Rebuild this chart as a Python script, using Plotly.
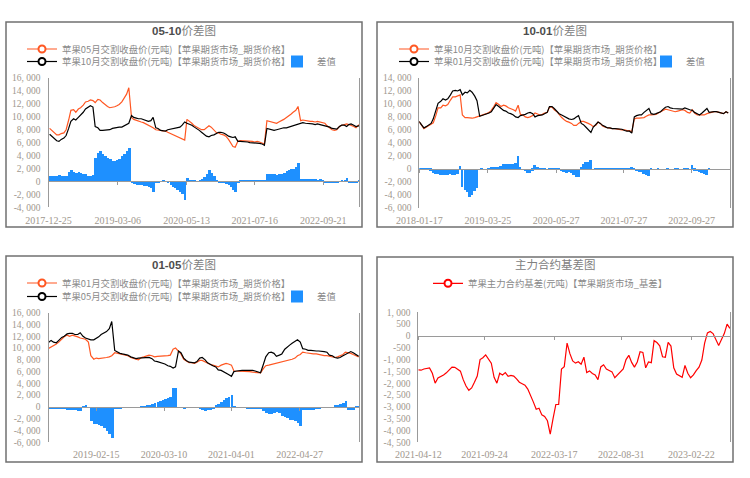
import pandas as pd
import plotly.graph_objects as go

W, H = 750, 478

# ---------------- Panel 1 : 05-10 ----------------
p1_dates = pd.date_range("2018-01-01", periods=130, freq="SMS")
p1_c05 = [
    8200, 7900, 7500, 7200, 7200, 7400, 7500, 8000, 9500, 11000, 11100, 10700,
    11200, 11400, 11800, 12300, 12400, 12600, 12500, 12200, 12700, 12600, 12200, 11900,
    11600, 11400, 11450, 11550, 11700, 11900, 12300, 12900, 13500, 14500, 9900, 9600,
    9500, 9400, 9200, 9100, 8900, 8700, 8500, 8300, 8000, 8000, 7900, 7800,
    7800, 7600, 7400, 7200, 7100, 6900, 6700, 6500, 6400, 9600, 9300, 9000,
    8600, 8400, 8200, 8000, 8000, 8300, 8600, 8400, 8000, 7600, 7500, 7300,
    7200, 7000, 6500, 6000, 5400, 5300, 6200, 6300, 6300, 6200, 6300, 6200,
    6200, 6100, 6200, 6100, 6000, 5800, 9400, 9300, 9100, 9000, 9000, 9200,
    9400, 9600, 9900, 10100, 10400, 10700, 11000, 11600, 9400, 9500, 9400, 9400,
    9300, 9300, 9200, 9300, 9200, 9100, 9000, 8600, 8200, 8000, 7900, 8000,
    8500, 8700, 8800, 8900, 8800, 8700, 8500, 8300, 8700, 8700,
]
p1_c10 = [
    7300, 7000, 6700, 6300, 6200, 6500, 6700, 7100, 8200, 9300, 9700, 9500,
    9900, 10200, 10700, 11200, 11500, 11700, 11500, 8500, 8300, 7900, 7900, 7900,
    8000, 8000, 8200, 8300, 8400, 8400, 8400, 8600, 8800, 9000, 10200, 9900,
    9800, 9700, 9700, 9600, 9500, 9300, 9400, 9900, 8300, 8200, 7900, 7800,
    7800, 8000, 8100, 8100, 8200, 8300, 8400, 8700, 9200, 9000, 8900, 8700,
    8400, 8200, 7900, 7600, 7300, 7000, 6900, 7100, 7200, 7400, 7600, 7600,
    7500, 7300, 7000, 6900, 6800, 6900, 6200, 6200, 6200, 6100, 6100, 6000,
    6000, 6000, 6000, 5900, 5800, 5600, 8200, 8100, 8000, 7900, 8000, 8100,
    8200, 8300, 8300, 8400, 8500, 8700, 8800, 8900, 9000, 9100, 9000, 9000,
    8900, 8900, 8800, 8900, 8800, 8700, 8700, 8600, 8400, 8200, 8100, 8100,
    8500, 8700, 8700, 8500, 8800, 8900, 8700, 8500, 8600, 8500,
]
p1_diff = [
    900, 900, 800, 900, 1000, 900, 800, 900, 1400, 1800, 1500, 1300,
    1400, 1300, 1100, 1100, 900, 900, 1000, 3700, 4400, 4700, 4300, 4000,
    3600, 3400, 3200, 3200, 3300, 3500, 3900, 4300, 4700, 5200, -300, -400,
    -500, -500, -600, -700, -700, -800, -1000, -1700, -300, -200, 0, 100,
    0, -300, -600, -800, -1000, -1300, -1600, -2000, -2800, 600, 300, 100,
    100, 0, 200, 400, 700, 1200, 1700, 1300, 800, 200, -100, -300,
    -300, -400, -500, -900, -1400, -1700, -100, 100, 100, 100, 200, 200,
    200, 200, 200, 200, 200, 200, 1200, 1200, 1100, 1100, 1000, 1100,
    1200, 1300, 1600, 1800, 1900, 2000, 2200, 2900, 400, 400, 400, 400,
    400, 400, 400, 300, 400, 300, -100, -200, -200, -200, -300, -100,
    0, 100, 200, 500, -100, -200, -300, -200, 100, 300,
]
p1_xticks = ["2017-12-25", "2019-03-06", "2020-05-13", "2021-07-16", "2022-09-21"]
p1_yticks = [16000, 14000, 12000, 10000, 8000, 6000, 4000, 2000, 0, -2000, -4000]

# ---------------- Panel 2 : 10-01 ----------------
p2_dates = pd.date_range("2018-01-15", periods=129, freq="SMS")
p2_c10 = [
    7300, 6700, 6200, 6400, 6600, 6800, 7100, 8200, 9400, 9400, 9800, 9700,
    9900, 10600, 11100, 11100, 11200, 11400, 8300, 7900, 7900, 7800, 7800,
    7900, 8000, 8200, 8300, 8400, 8500, 8700, 9000, 9600, 10200, 9900, 9600,
    9800, 9700, 9400, 9300, 9100, 8900, 9800, 8400, 8300, 8000, 7900, 8000,
    8200, 8600, 8400, 8300, 8400, 8600, 8700, 9500, 9500, 9100, 8800, 8300,
    7900, 7600, 7300, 7200, 7000, 6700, 6700, 7000, 7300, 7300, 7200, 7000,
    6800, 6500, 6700, 7200, 7000, 6600, 6400, 6300, 6200, 6200, 6200, 6100,
    6100, 6000, 6000, 5900, 5900, 5700, 7700, 7800, 7800, 7800, 7900, 8100,
    8300, 8300, 8300, 8400, 8600, 8800, 9000, 9200, 9100, 9000, 8900, 8800,
    8900, 9000, 9100, 9000, 8700, 8600, 9100, 8600, 8300, 8300, 8300, 8300,
    8500, 8600, 8700, 8800, 8800, 8700, 8600, 8500, 8800, 8600,
]
p2_c01 = [
    7300, 6800, 6300, 6500, 6700, 7000, 7700, 9000, 10100, 10400, 10800, 10600,
    10800, 11400, 12000, 12100, 12000, 12200, 11400, 11800, 11700, 12100, 11800,
    11200, 10500, 8100, 8200, 8400, 8500, 8600, 8800, 9300, 9900, 9600, 9300,
    9000, 8900, 8600, 8500, 8300, 8000, 7900, 8200, 8300, 8400, 8600, 8700,
    8500, 8000, 8200, 8200, 8300, 8500, 8700, 9600, 9600, 9300, 8900, 8500,
    8300, 8100, 7900, 7700, 7600, 7700, 8000, 8200, 7000, 6800, 6400, 6000,
    5600, 6400, 6800, 7200, 7000, 6700, 6500, 6300, 6300, 6200, 6200, 6200,
    6100, 6100, 5900, 5800, 5800, 5500, 8000, 8200, 8300, 8300, 8700, 9000,
    9300, 8500, 8400, 8500, 8600, 8800, 9200, 9500, 9600, 9400, 9300, 9300,
    9200, 9200, 9200, 9400, 9300, 9100, 9000, 8700, 8500, 8300, 8600, 8900,
    9300, 8700, 8800, 8800, 8800, 8700, 8600, 8500, 8800, 8600,
]
p2_diff = [
    -100, -100, -100, -200, -200, -300, -600, -800, -800, -900, -900, -900,
    -900, -800, -900, -1000, -800, 500, -2800, -3300, -3600, -4300, -4000,
    -3400, -3000, 0, 100, 0, 0, 100, 200, 300, 300, 300, 400,
    800, 800, 800, 800, 800, 900, 1900, 200, 0, -400, -700, -700,
    -300, 600, 200, 100, 100, 100, 0, -100, -200, -200, -100, -200,
    -400, -500, -600, -500, -600, -1000, -1300, -1200, 300, 700, 1000, 1100,
    1300, 0, -100, -100, -100, -100, -100, -100, -100, -100, -100, -100,
    -100, -100, 100, 100, 100, 200, -200, -400, -500, -500, -800, -1000,
    -1100, -200, 0, 0, 100, 0, 0, 0, 100, 0, 0, 100,
    100, 0, 0, 100, 100, 0, 600, -300, -400, -500, -600, -800,
    -900, -100, 0, 0, 0, 0, 0, 0, 0, 0,
]
p2_xticks = ["2018-01-17", "2019-03-25", "2020-05-27", "2021-07-27", "2022-09-27"]
p2_yticks = [14000, 12000, 10000, 8000, 6000, 4000, 2000, 0, -2000, -4000, -6000]

# ---------------- Panel 3 : 01-05 ----------------
p3_dates = pd.date_range("2018-05-15", periods=118, freq="SMS")
p3_c01 = [
    9900, 10200, 10300, 10700, 11000, 11500, 11900, 12200, 12000, 12200, 12100, 11900,
    11700, 11600, 11500,
    11000, 8700, 8100, 8300, 8200, 8300, 8300, 8400, 8500, 8700, 9200, 9100,
    9000, 8900, 8800, 8700, 8400, 8200, 8100, 8000, 8400, 8500, 8600, 8800,
    8700, 8500, 8600, 8600, 8700, 8700, 8700, 8800, 9800, 10000, 9400, 9000,
    8100, 7800, 7500, 7500, 7400, 7600, 7900, 7900, 7600, 7400, 7200, 7100,
    6900, 6800, 7100, 7300, 7400, 7300, 7100, 6100, 6100, 6100, 6100, 6100,
    6000, 6000, 5900, 5900, 5800, 5800, 6500, 7000, 7100, 7200, 7300, 7400,
    7500, 7600, 7700, 7800, 7900, 8100, 8300, 8700, 8900, 9300, 9200, 9100,
    9100, 9000, 9000, 8900, 8800, 8700, 8700, 8600, 8500, 8400, 8500, 8700,
    8900, 9300, 9200, 9100, 8900, 8700, 8500,
]
p3_c05 = [
    10900, 11300, 11000, 10900, 11300, 11800, 12000, 12400, 12500, 12500, 12300, 12300,
    12600, 12000, 11700,
    11500, 11400, 11400, 11600, 11900, 12300, 12500, 12800, 13300, 14500, 9600, 9300,
    9100, 9000, 8900, 8800, 8500, 8300, 8200, 8300, 8300, 8300, 8400, 8400,
    8200, 7800, 7700, 7600, 7400, 7300, 7000, 6900, 6600, 6800, 9500, 9200,
    8300, 7900, 7600, 7500, 7500, 7700, 8300, 8400, 8000, 7500, 7200, 7000,
    6800, 6300, 6200, 6000, 5800, 5500, 5200, 6000, 6100, 6200, 6200, 6200,
    6200, 6300, 6200, 6100, 6000, 5800, 7200, 8500, 9200, 9300, 9100, 8600,
    8800, 9000, 9800, 10200, 10500, 10800, 11100, 11400, 11000, 9900, 9800, 9600,
    9600, 9500, 9500, 9500, 9500, 9400, 9300, 8800, 8700, 8400, 8300, 8400,
    8700, 8900, 9200, 9400, 9200, 8900, 8600,
]
p3_diff = [
    -300, -300, -300, -300, -300, -300, -300, -400, -400, -500, -500, -600,
    -700, 100, 300,
    0, -2300, -2800, -2900, -3000, -3200, -3600, -4000, -4500, -5300, -300, -200,
    -200, -100, -100, -100, -100, -100, -100, 0, 100, 200, 300, 400,
    500, 700, 900, 1000, 1200, 1400, 1600, 1800, 3300, 3200, -100, -100,
    -200, -100, -100, -100, -100, -100, -300, -500, -600, -500, -400, -200,
    300, 500, 900, 1200, 1500, 1800, 2100, 100, -100, -100, -100, -100,
    -200, -200, -200, -300, -300, -200, -700, -1000, -1100, -1200, -900, -800,
    -1000, -1500, -1700, -1900, -2100, -2200, -2400, -2600, -3100, -400, -400, -400,
    -400, -400, -300, -300, -100, -100, -100, -100, -100, 300, 400, 600,
    800, 1000, -400, -500, -400, 200, 200,
]
p3_xticks = ["2019-02-15", "2020-03-10", "2021-04-01", "2022-04-27"]
p3_yticks = [16000, 14000, 12000, 10000, 8000, 6000, 4000, 2000, 0, -2000, -4000, -6000]

# ---------------- Panel 4 : main contract basis ----------------
p4_dates = pd.date_range("2021-04-12", periods=112, freq="W-MON")
p4_basis = [
    -1440, -1450, -1400, -1370, -1350, -1580, -2000, -1780, -1720, -1650,
    -1560, -1420, -1320, -1330, -1400, -1490, -1850, -2120, -2300, -2200,
    -1960, -1700, -1000, -920, -800, -950, -1150, -1750, -2000, -1580,
    -1650, -1550, -1710, -1670, -1700, -1820, -1960, -2020, -2080, -2250,
    -2500, -2800, -3100, -3060, -3340, -3410, -3590, -4150, -3500, -2900,
    -2900, -1400, -1300, -300, -750, -1060, -1150, -1090, -1200, -900,
    -1550, -1480, -1590, -1650, -1850, -1310, -1220, -1400, -1460, -1520,
    -1770, -1640, -1540, -1400, -1000, -820, -1120, -1320, -1100, -670,
    -700, -1350, -1100, -1130, -200, -280, -420, -880, -900, -270,
    -430, -1350, -1610, -1690, -1750, -1250, -1580, -1770, -1650, -1470,
    -1320, -1020, -300, 130, 190, 100, -120, -400, -150, 100,
    500, 320,
]
p4_xticks = ["2021-04-12", "2021-09-24", "2022-03-17", "2022-08-31", "2023-02-22"]
p4_yticks = [1000, 500, 0, -500, -1000, -1500, -2000, -2500, -3000, -3500, -4000, -4500]

# ---------------- styling ----------------
ORANGE = "#FF5722"
BLACK = "#000000"
BLUE = "#1E90FF"
RED = "#FF0000"
TICK_C = "#a0978e"
LEG_C = "#8a8a8a"
AXLINE_C = "#9a9a9a"
BAR_W = 16 * 86400000

fig = go.Figure()


def fmt(v):
    return f"{v:,}".replace(",", ", ")


def add_line(x, y, name, color, xa, ya, leg):
    fig.add_trace(go.Scatter(
        x=x, y=y, name=name, mode="lines+markers",
        line=dict(color=color, width=1.2),
        marker=dict(symbol="circle", size=7, color="white", line=dict(color=color, width=2)),
        selectedpoints=[], unselected=dict(marker=dict(opacity=0)),
        xaxis=xa, yaxis=ya, legend=leg, hoverinfo="skip"))


def add_bar(x, y, xa, ya, leg):
    fig.add_trace(go.Bar(
        x=x, y=y, name="差值", width=BAR_W,
        marker=dict(color=BLUE, line=dict(width=0)),
        xaxis=xa, yaxis=ya, legend=leg, hoverinfo="skip"))


def set_axes(i, xpx, ypx, label_py, xrange, yrange, xticks, yticks):
    # xpx: (left, right) pixels; ypx: (bottom, top) pixels
    xd = [xpx[0] / W, xpx[1] / W]
    yd = [1 - ypx[0] / H, 1 - ypx[1] / H]
    s = "" if i == 1 else str(i)
    zero_frac = yd[0] + (0 - yrange[0]) / (yrange[1] - yrange[0]) * (yd[1] - yd[0])
    zero_py = (1 - zero_frac) * H
    standoff = int(round(max(0, label_py - (zero_py + 12))))
    fig.update_layout(**{
        f"xaxis{s}": dict(
            type="date", domain=xd, range=xrange, anchor="free", position=zero_frac,
            tickvals=xticks, ticktext=xticks, showgrid=False, zeroline=False,
            showline=True, linecolor=AXLINE_C, linewidth=1,
            ticks="outside", ticklen=3, tickcolor=AXLINE_C,
            ticklabelstandoff=standoff, automargin=False,
            tickfont=dict(family="Liberation Serif", size=10, color=TICK_C)),
        f"yaxis{s}": dict(
            domain=yd, range=yrange, anchor=f"x{s}",
            tickvals=yticks, ticktext=[fmt(v) for v in yticks],
            showgrid=False, zeroline=False, showline=True, mirror=True,
            linecolor=AXLINE_C, linewidth=1, automargin=False,
            ticks="outside", ticklen=5, tickcolor="rgba(0,0,0,0)",
            tickfont=dict(family="Liberation Serif", size=9.5, color=TICK_C)),
    })


def legend_cfg(x_px, y_px):
    return dict(orientation="h", x=x_px / W, y=1 - y_px / H, xanchor="left", yanchor="middle",
                font=dict(family="Noto Sans CJK SC", size=9.4, color=LEG_C),
                bgcolor="rgba(0,0,0,0)", borderwidth=0, itemclick=False, itemdoubleclick=False)


# panel 1
add_bar(p1_dates, p1_diff, "x", "y", "legend3")
add_line(p1_dates, p1_c05, "苹果05月交割收盘价(元吨)【苹果期货市场_期货价格】", ORANGE, "x", "y", "legend")
add_line(p1_dates, p1_c10, "苹果10月交割收盘价(元吨)【苹果期货市场_期货价格】", BLACK, "x", "y", "legend2")
set_axes(1, (48.5, 359), (207.3, 78), 220, ["2017-12-25", "2023-05-04"], [-4000, 16000], p1_xticks, p1_yticks)

# panel 2
add_bar(p2_dates, p2_diff, "x2", "y2", "legend6")
add_line(p2_dates, p2_c10, "苹果10月交割收盘价(元吨)【苹果期货市场_期货价格】", ORANGE, "x2", "y2", "legend4")
add_line(p2_dates, p2_c01, "苹果01月交割收盘价(元吨)【苹果期货市场_期货价格】", BLACK, "x2", "y2", "legend5")
set_axes(2, (419.3, 730.3), (207.7, 78), 220, ["2018-01-17", "2023-05-28"], [-6000, 14000], p2_xticks, p2_yticks)

# panel 3
add_bar(p3_dates, p3_diff, "x3", "y3", "legend9")
add_line(p3_dates, p3_c01, "苹果01月交割收盘价(元吨)【苹果期货市场_期货价格】", ORANGE, "x3", "y3", "legend7")
add_line(p3_dates, p3_c05, "苹果05月交割收盘价(元吨)【苹果期货市场_期货价格】", BLACK, "x3", "y3", "legend8")
set_axes(3, (48.5, 359), (442.3, 312.7), 454.3, ["2018-05-17", "2023-04-03"], [-6000, 16000], p3_xticks, p3_yticks)

# panel 4
add_line(p4_dates, p4_basis, "苹果主力合约基差(元吨)【苹果期货市场_基差】", RED, "x4", "y4", "legend10")
set_axes(4, (418.3, 730.3), (442.3, 312.3), 454.3, ["2021-04-12", "2023-05-30"], [-4500, 1000], p4_xticks, p4_yticks)

fig.update_layout(
    legend=legend_cfg(22, 49), legend2=legend_cfg(22, 61.5), legend3=legend_cfg(277, 61.5),
    legend4=legend_cfg(394, 49), legend5=legend_cfg(394, 61.5), legend6=legend_cfg(646, 61.5),
    legend7=legend_cfg(22, 283), legend8=legend_cfg(22, 296.5), legend9=legend_cfg(277, 296.5),
    legend10=legend_cfg(428, 283.3),
)

# panel frames and titles
boxes = [(6, 22, 362, 227), (377, 22, 733, 227), (6, 256, 362, 462), (377, 257, 733, 462)]
shapes = []
for (x0, y0, x1, y1) in boxes:
    shapes.append(dict(type="rect", xref="paper", yref="paper",
                       x0=x0 / W, x1=x1 / W, y0=1 - y1 / H, y1=1 - y0 / H,
                       line=dict(color="#707070", width=1.5), fillcolor="rgba(0,0,0,0)", layer="above"))

titles = [
    (184, 30, "<span style='color:#4d4d4d'><b>05-10</b></span>价差图"),
    (555, 30, "<span style='color:#4d4d4d'><b>10-01</b></span>价差图"),
    (184, 264, "<span style='color:#4d4d4d'><b>01-05</b></span>价差图"),
    (555, 264, "主力合约基差图"),
]
annotations = [dict(x=tx / W, y=1 - ty / H, xref="paper", yref="paper", text=t, showarrow=False,
                    xanchor="center", yanchor="middle",
                    font=dict(family="Liberation Sans, Noto Sans CJK SC", size=11.5, color="#808080"))
               for tx, ty, t in titles]

fig.update_layout(
    template="none",
    width=W, height=H, margin=dict(l=0, r=0, t=0, b=0, autoexpand=False),
    paper_bgcolor="white", plot_bgcolor="white",
    shapes=shapes, annotations=annotations,
    bargap=0, barmode="overlay", hovermode=False, showlegend=True,
)

fig.write_html("out.html")
